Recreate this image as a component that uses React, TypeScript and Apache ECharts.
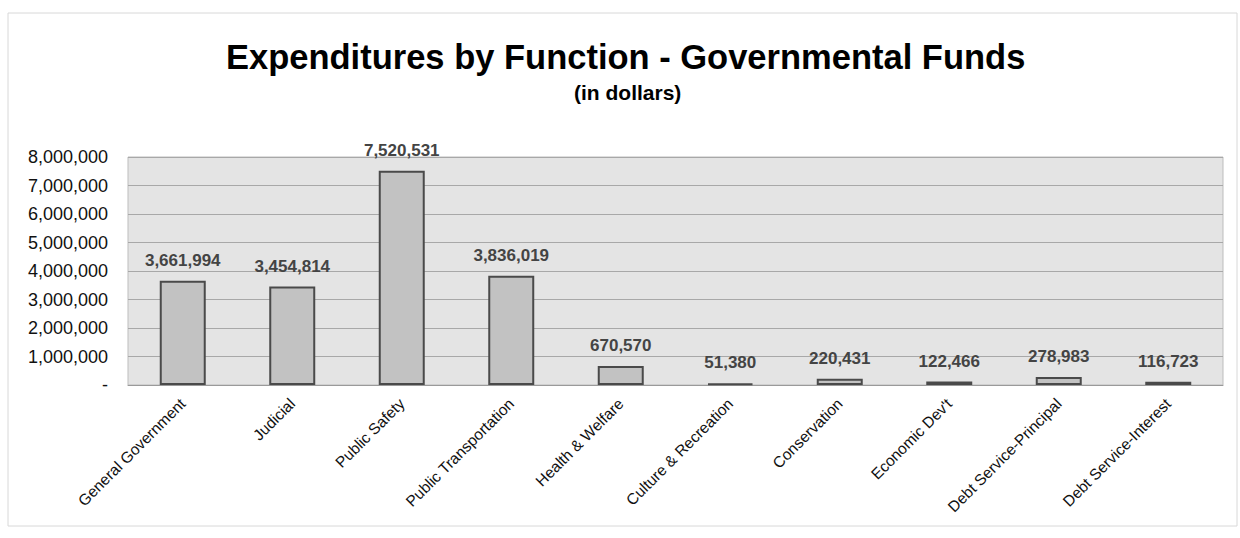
import React, { useEffect, useRef } from "react";
import * as echarts from "echarts";

const categories = [
  "General Government",
  "Judicial",
  "Public Safety",
  "Public Transportation",
  "Health & Welfare",
  "Culture & Recreation",
  "Conservation",
  "Economic Dev't",
  "Debt Service-Principal",
  "Debt Service-Interest",
];
const values = [3661994, 3454814, 7520531, 3836019, 670570, 51380, 220431, 122466, 278983, 116723];
const titleText = "Expenditures by Function - Governmental Funds";
const subtitleText = "(in dollars)";

const fmt = (v: number) => (v === 0 ? "-" : v.toLocaleString("en-US"));

export default function App() {
  const ref = useRef<HTMLDivElement>(null);
  useEffect(() => {
    if (!ref.current) return;
    const chart = echarts.init(ref.current, undefined, { renderer: "svg" });
    chart.setOption({
      animation: false,
      backgroundColor: "#ffffff",
      title: [
        {
          text: titleText,
          left: 221,
          top: 34,
          textStyle: { fontFamily: "Liberation Sans, Arial", fontSize: 34.5, fontWeight: "bold", color: "#000" },
        },
        {
          text: subtitleText,
          left: 569,
          top: 77,
          textStyle: { fontFamily: "Liberation Sans, Arial", fontSize: 21, fontWeight: "bold", color: "#000" },
        },
      ],
      graphic: [
        {
          type: "rect",
          shape: { x: 8, y: 13, width: 1229, height: 513 },
          style: { fill: "none", stroke: "#d8d8d8", lineWidth: 1 },
          silent: true,
        },
      ],
      grid: {
        left: 128,
        right: 17,
        top: 157,
        bottom: 153,
        show: true,
        backgroundColor: "#e4e4e4",
        borderColor: "#bdbdbd",
        borderWidth: 1,
      },
      xAxis: {
        type: "category",
        data: categories,
        axisTick: { show: false },
        axisLine: { show: true, lineStyle: { color: "#9a9a9a" } },
        axisLabel: {
          interval: 0,
          rotate: 45,
          fontFamily: "Liberation Sans, Arial",
          fontSize: 15.5,
          color: "#111",
          margin: 16,
        },
      },
      yAxis: {
        type: "value",
        min: 0,
        max: 8000000,
        interval: 1000000,
        axisLine: { show: false },
        axisTick: { show: false },
        splitLine: { lineStyle: { color: "#a8a8a8", width: 1 } },
        axisLabel: {
          formatter: (v: number) => fmt(v),
          fontFamily: "Liberation Sans, Arial",
          fontSize: 18,
          color: "#111",
          margin: 20,
        },
      },
      series: [
        {
          type: "bar",
          data: values,
          barWidth: "42%",
          itemStyle: { color: "#c2c2c2", borderColor: "#4a4a4a", borderWidth: 2 },
          label: {
            show: true,
            position: "top",
            distance: 12,
            formatter: (p: any) => fmt(p.value),
            fontFamily: "Liberation Sans, Arial",
            fontSize: 17,
            fontWeight: "bold",
            color: "#444",
          },
        },
      ],
    });
    return () => chart.dispose();
  }, []);
  return <div ref={ref} style={{ width: 1240, height: 538, position: "absolute", left: 0, top: 0 }} />;
}
